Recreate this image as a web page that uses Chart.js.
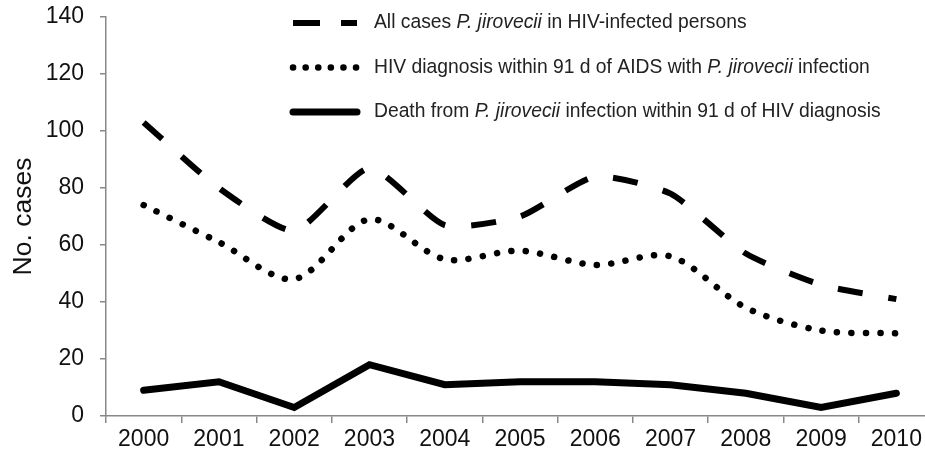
<!DOCTYPE html>
<html>
<head>
<meta charset="utf-8">
<script src="https://cdn.jsdelivr.net/npm/chart.js@4.4.0/dist/chart.umd.min.js"></script>
<style>
  html, body { margin: 0; padding: 0; background: #fff; overflow: hidden; }
  #wrap { width: 925px; height: 456px; overflow: hidden; }
</style>
</head>
<body>
<div id="wrap"><canvas id="chart" width="940" height="456"></canvas></div>
<script>
// data
const years = ['2000', '2001', '2002', '2003', '2004', '2005', '2006', '2007', '2008', '2009', '2010'];
const allCases = [103, 80, 65, 87, 67, 70, 84, 78, 57, 46, 41];
const hivWithin91 = [74, 61, 48, 69, 55, 58, 53, 56, 38, 30, 29];
const deaths = [9, 12, 3, 18, 11, 12, 12, 11, 8, 3, 8];
const yMin = 0;
const yMax = 140;
const yStep = 20;

// legend text, [text, italic]
const legendRows = [
  [['All cases ', false], ['P. jirovecii', true], [' in HIV-infected persons', false]],
  [['HIV diagnosis within 91 d of AIDS with ', false], ['P. jirovecii', true], [' infection', false]],
  [['Death from ', false], ['P. jirovecii', true], [' infection within 91 d of HIV diagnosis', false]]
];
const legendDash = [[27, 21], [0.1, 12.5], []];

const axisGray = '#888888';
const fontFam = '"Liberation Sans", Arial, sans-serif';

const richLegend = {
  id: 'richLegend',
  afterDraw(chart) {
    const ctx = chart.ctx;
    ctx.save();
    legendRows.forEach((parts, i) => {
      const ds = chart.data.datasets[i];
      const y = 23 + i * 44.5;
      ctx.beginPath();
      ctx.setLineDash(legendDash[i]);
      ctx.lineCap = ds.borderCapStyle;
      ctx.lineWidth = ds.borderWidth;
      ctx.strokeStyle = ds.borderColor;
      ctx.moveTo(293, y);
      ctx.lineTo(357, y);
      ctx.stroke();
      ctx.setLineDash([]);
      ctx.fillStyle = '#222';
      ctx.textBaseline = 'middle';
      let x = 374;
      parts.forEach(([t, it]) => {
        ctx.font = (it ? 'italic ' : '') + '19.3px ' + fontFam;
        ctx.fillText(t, x, y);
        x += ctx.measureText(t).width;
      });
    });
    ctx.restore();
  }
};

new Chart(document.getElementById('chart'), {
  type: 'line',
  data: {
    labels: years,
    datasets: [{
      label: 'All cases P. jirovecii in HIV-infected persons',
      data: allCases,
      borderColor: '#000',
      borderWidth: 6,
      borderDash: [25, 26],
      borderCapStyle: 'butt',
      tension: 0.2,
      pointRadius: 0
    }, {
      label: 'HIV diagnosis within 91 d of AIDS with P. jirovecii infection',
      data: hivWithin91,
      borderColor: '#000',
      borderWidth: 6.5,
      borderDash: [0.1, 14.4],
      borderCapStyle: 'round',
      tension: 0.3,
      pointRadius: 0
    }, {
      label: 'Death from P. jirovecii infection within 91 d of HIV diagnosis',
      data: deaths,
      borderColor: '#000',
      borderWidth: 7,
      borderCapStyle: 'round',
      borderJoinStyle: 'miter',
      tension: 0,
      pointRadius: 0
    }]
  },
  options: {
    responsive: false,
    animation: false,
    layout: { padding: { top: 17, right: 6, left: 0, bottom: 0 } },
    plugins: {
      legend: { display: false },
      tooltip: { enabled: false }
    },
    scales: {
      x: {
        offset: true,
        afterFit: s => { s.height = 40; s.paddingLeft = 0; s.paddingRight = 0; },
        grid: {
          offset: true,
          drawOnChartArea: false,
          drawTicks: true,
          tickLength: 7,
          color: axisGray,
          lineWidth: 1.5
        },
        border: { display: true, color: axisGray, width: 1.5 },
        ticks: {
          color: '#111',
          padding: 3,
          maxRotation: 0,
          autoSkip: false,
          font: { family: fontFam, size: 23 }
        }
      },
      y: {
        min: yMin,
        max: yMax,
        afterFit: s => { s.width = 106; s.paddingTop = 0; s.paddingBottom = 0; },
        grid: {
          drawOnChartArea: false,
          drawTicks: true,
          tickLength: 6,
          color: axisGray,
          lineWidth: 1.5
        },
        border: { display: true, color: axisGray, width: 1.5 },
        ticks: {
          stepSize: yStep,
          color: '#111',
          padding: 16,
          font: { family: fontFam, size: 23 }
        },
        title: {
          display: true,
          text: 'No. cases',
          color: '#111',
          padding: { top: 8, bottom: 0 },
          font: { family: fontFam, size: 26.5 }
        }
      }
    }
  },
  plugins: [richLegend]
});
</script>
</body>
</html>
